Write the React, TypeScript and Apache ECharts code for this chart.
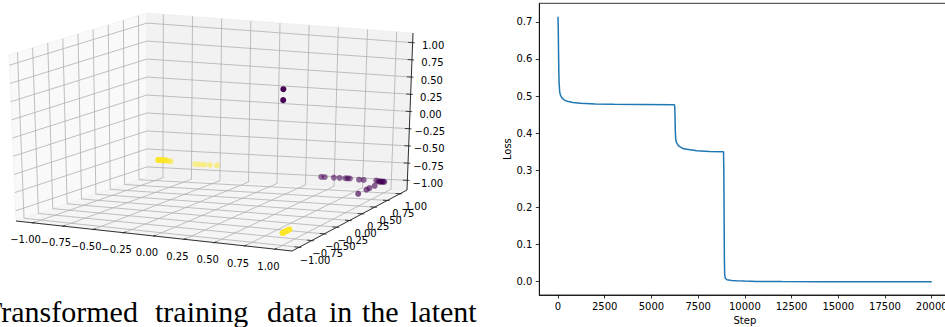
import React, { useEffect, useRef } from 'react';
import * as echarts from 'echarts';

// ---------------- Data ----------------
// 3D latent space tick values (same on all three axes)
const tickValues3d = [-1, -0.75, -0.5, -0.25, 0, 0.25, 0.5, 0.75, 1];

// class A (yellow) latent points [x, y, z]
const latentYellow: number[][] = [
  [-0.976, 1, -0.85], [-0.972, 1, -0.85], [-0.968, 1, -0.85], [-0.964, 1, -0.85], [-0.96, 1, -0.85],
  [-0.955, 1, -0.85], [-0.95, 1, -0.85], [-0.945, 1, -0.85], [-0.94, 1, -0.85], [-0.935, 1, -0.85],
  [-0.93, 1, -0.85], [-0.925, 1, -0.85], [-0.92, 1, -0.85], [-0.913, 1, -0.85], [-0.905, 1, -0.85],
  [-0.895, 1, -0.85], [-0.878, 1, -0.86], [-0.861, 1, -0.86],
  [-0.65, 1, -0.88], [-0.61, 1, -0.88], [-0.57, 1, -0.88], [-0.52, 1, -0.88], [-0.46, 1, -0.88],
  [1, -1, -0.97], [1, -0.98, -0.97], [1, -0.96, -0.97], [1, -0.94, -0.97], [1, -0.92, -0.97],
  [1, -0.9, -0.97], [1, -0.88, -0.97], [1, -0.86, -0.97],
];

// class B (purple) latent points [x, y, z]
const latentPurple: number[][] = [
  [0.99, -1, 1], [0.99, -1, 0.85],
  [0.45, 1, -0.96], [0.48, 1, -0.96], [0.56, 1, -0.96], [0.61, 1, -0.96], [0.66, 1, -0.96],
  [0.68, 1, -0.96], [0.7, 1, -0.96], [0.78, 1, -0.97], [0.82, 1, -0.97], [0.93, 1, -0.97],
  [0.95, 1, -0.98], [0.96, 1, -0.98], [0.97, 1, -0.98], [0.98, 1, -0.98], [0.99, 1, -0.98],
  [1, 1, -0.98],
  [0.965, 0.89, -1], [0.96, 0.8, -1], [0.96, 0.74, -1], [0.96, 0.58, -1],
];

// Loss curve
const lossSteps = [
  0, 15, 30, 45, 60, 90, 130, 200, 320, 500, 800, 1200, 2000, 3000, 4500, 6230, 6250, 6265,
  6280, 6300, 6340, 6450, 6720, 7430, 8100, 8860, 8875, 8890, 8905, 8920, 8950, 9040, 9300,
  9570, 10000, 10640, 12000, 14000, 20000,
];
const lossValues = [
  0.714, 0.68, 0.62, 0.565, 0.535, 0.512, 0.503, 0.496, 0.49, 0.486, 0.483, 0.481, 0.479,
  0.478, 0.4775, 0.477, 0.47, 0.44, 0.405, 0.385, 0.375, 0.366, 0.358, 0.353, 0.351, 0.35,
  0.3, 0.18, 0.06, 0.02, 0.01, 0.0054, 0.0035, 0.0027, 0.0018, 0.0009, 0.0004, 0.0002, 0.0001,
];
const stepTicks = [0, 2500, 5000, 7500, 10000, 12500, 15000, 17500, 20000];
const lossTicks = [0, 0.1, 0.2, 0.3, 0.4, 0.5, 0.6, 0.7];

const captionWords = ['Transformed', 'training', 'data', 'in', 'the', 'latent'];

// ---------------- Layout ----------------
const W = 945;
const H = 327;
const LIM = 1.14; // 3D axis limits (+/-)
// screen positions of the 3D box corners (u: x, v: y, w: z; 0 = min, 1 = max)
const BOX: Record<string, number[]> = {
  c000: [16, 221], c100: [292, 251], c010: [147, 177], c110: [407, 190],
  c001: [9, 55], c101: [295, 84], c011: [147, 13], c111: [413, 33],
};
const captionX = [-16, 155, 267, 329, 362, 410];
const FONT = '"DejaVu Sans", sans-serif';

function lerp(a: number[], b: number[], t: number) {
  return [a[0] + (b[0] - a[0]) * t, a[1] + (b[1] - a[1]) * t];
}
function proj(x: number, y: number, z: number) {
  const u = (x + LIM) / (2 * LIM);
  const v = (y + LIM) / (2 * LIM);
  const w = (z + LIM) / (2 * LIM);
  const a = lerp(BOX.c000, BOX.c100, u);
  const b = lerp(BOX.c010, BOX.c110, u);
  const c = lerp(BOX.c001, BOX.c101, u);
  const d = lerp(BOX.c011, BOX.c111, u);
  return lerp(lerp(a, b, v), lerp(c, d, v), w);
}
// closeness to the camera (bigger = nearer)
function closeness(p: number[]) {
  return 0.38 * p[0] * 4 - 0.9 * p[1] * 4 + 0.225 * p[2] * 2.3;
}
const fmt3d = (t: number) => (t < 0 ? '\u2212' : '') + Math.abs(t).toFixed(2);

function buildOption() {
  const L = LIM;
  const d = (2 * L) / 12;

  const staticSeries = (z: number, build: (api: any) => any[]) => ({
    type: 'custom',
    coordinateSystem: 'cartesian2d',
    xAxisIndex: 0,
    yAxisIndex: 0,
    z,
    silent: true,
    data: [[0, 0]],
    renderItem: (_p: any, api: any) => ({ type: 'group', children: build(api) }),
  });
  const C = (api: any, p: number[]) => api.coord(proj(p[0], p[1], p[2]));

  const panes = [
    { pts: [[-L, -L, -L], [-L, L, -L], [-L, L, L], [-L, -L, L]], fill: '#f9f9f9' },
    { pts: [[-L, L, -L], [L, L, -L], [L, L, L], [-L, L, L]], fill: '#f2f2f2' },
    { pts: [[-L, -L, -L], [L, -L, -L], [L, L, -L], [-L, L, -L]], fill: '#f5f5f5' },
  ];

  const gridLines: number[][][] = [];
  tickValues3d.forEach((t) => {
    gridLines.push([[t, -L, -L], [t, L, -L], [t, L, L]]);
    gridLines.push([[L, t, -L], [-L, t, -L], [-L, t, L]]);
    gridLines.push([[-L, -L, t], [-L, L, t], [L, L, t]]);
  });

  const axisLines: number[][][] = [
    [[-L, -L, -L], [L, -L, -L]],
    [[L, -L, -L], [L, L, -L]],
    [[L, L, -L], [L, L, L]],
  ];
  const tickSegs: number[][][] = [];
  tickValues3d.forEach((t) => {
    tickSegs.push([[t, -L + 0.2 * d, -L], [t, -L - 0.1 * d, -L]]);
    tickSegs.push([[L - 0.2 * d, t, -L], [L + 0.1 * d, t, -L]]);
    tickSegs.push([[L - 0.2 * d, L, t], [L + 0.1 * d, L, t]]);
  });

  const all = [...latentYellow, ...latentPurple];
  const cs = all.map((p) => closeness(p));
  const cmin = Math.min(...cs);
  const cmax = Math.max(...cs);
  const alphaOf = (p: number[]) => 1 - 0.55 * (cmax - closeness(p)) / (cmax - cmin);
  const scatterData = (pts: number[][]) =>
    pts
      .slice()
      .sort((a, b) => closeness(a) - closeness(b))
      .map((p) => ({ value: proj(p[0], p[1], p[2]), itemStyle: { opacity: alphaOf(p) } }));

  const text = (x: number, y: number, s: string) => ({
    type: 'text',
    x,
    y,
    style: { text: s, fill: '#000', font: `10px ${FONT}`, align: 'center', verticalAlign: 'middle' },
  });

  return {
    animation: false,
    backgroundColor: '#fff',
    grid: [
      { left: 0, top: 0, width: W, height: H, outerBoundsMode: 'none', containLabel: false },
      {
        left: 539.3, top: 3.3, width: 411.1, height: 291.7, show: true, borderColor: '#000',
        borderWidth: 0.8, outerBoundsMode: 'none', containLabel: false,
      },
    ],
    xAxis: [
      { gridIndex: 0, type: 'value', min: 0, max: W, show: false },
      {
        gridIndex: 1, type: 'value', min: -1000, max: 21000,
        name: 'Step', nameLocation: 'middle', nameGap: 20,
        nameTextStyle: { color: '#000', fontSize: 10, fontFamily: FONT },
        axisLine: { show: true, onZero: false, lineStyle: { color: '#000', width: 0.8 } },
        axisTick: { show: true, length: 3.5, customValues: stepTicks, lineStyle: { color: '#000', width: 0.8 } },
        axisLabel: {
          customValues: stepTicks, margin: 6, color: '#000', fontSize: 10, fontFamily: FONT,
          formatter: (v: number) => String(v),
        },
        splitLine: { show: false },
      },
    ],
    yAxis: [
      { gridIndex: 0, type: 'value', min: 0, max: H, inverse: true, show: false },
      {
        gridIndex: 1, type: 'value', min: -0.0357, max: 0.75,
        name: 'Loss', nameLocation: 'middle', nameGap: 27, nameRotate: 90,
        nameTextStyle: { color: '#000', fontSize: 10, fontFamily: FONT },
        axisLine: { show: true, onZero: false, lineStyle: { color: '#000', width: 0.8 } },
        axisTick: { show: true, length: 3.5, customValues: lossTicks, lineStyle: { color: '#000', width: 0.8 } },
        axisLabel: {
          customValues: lossTicks, margin: 7, color: '#000', fontSize: 10, fontFamily: FONT,
          formatter: (v: number) => v.toFixed(1),
        },
        splitLine: { show: false },
      },
    ],
    series: [
      staticSeries(1, (api) =>
        panes.map((pn) => ({
          type: 'polygon',
          shape: { points: pn.pts.map((p) => C(api, p)) },
          style: { fill: pn.fill, stroke: '#ececec', lineWidth: 0.6 },
        })),
      ),
      staticSeries(2, (api) =>
        gridLines.map((gl) => ({
          type: 'polyline',
          shape: { points: gl.map((p) => C(api, p)) },
          style: { stroke: '#b0b0b0', lineWidth: 0.8, fill: null },
        })),
      ),
      staticSeries(3, (api) => [
        ...axisLines.map((al) => ({
          type: 'polyline',
          shape: { points: al.map((p) => C(api, p)) },
          style: { stroke: '#1a1a1a', lineWidth: 0.9, fill: null },
        })),
        ...tickSegs.map((ts) => ({
          type: 'polyline',
          shape: { points: ts.map((p) => C(api, p)) },
          style: { stroke: '#1a1a1a', lineWidth: 0.8, fill: null },
        })),
      ]),
      staticSeries(4, (api) => [
        ...tickValues3d.map((t) => {
          const q = C(api, [t, -L - 0.13, -L]);
          return text(q[0], q[1] + 14, fmt3d(t));
        }),
        ...tickValues3d.map((t) => {
          const q = C(api, [L, t, -L]);
          return text(q[0] + 16, q[1] + 13, fmt3d(t));
        }),
        ...tickValues3d.map((t) => {
          const q = C(api, [L, L, t]);
          return text(q[0] + 20.5, q[1] + 3, fmt3d(t));
        }),
      ]),
      {
        type: 'scatter', xAxisIndex: 0, yAxisIndex: 0, z: 5, silent: true,
        symbol: 'circle', symbolSize: 6, itemStyle: { color: '#fde725' },
        data: scatterData(latentYellow),
      },
      {
        type: 'scatter', xAxisIndex: 0, yAxisIndex: 0, z: 5, silent: true,
        symbol: 'circle', symbolSize: 6, itemStyle: { color: '#440154' },
        data: scatterData(latentPurple),
      },
      {
        type: 'line', xAxisIndex: 1, yAxisIndex: 1, z: 3, silent: true,
        showSymbol: false, symbol: 'none',
        lineStyle: { color: '#1f77b4', width: 1.5 },
        data: lossSteps.map((s, i) => [s, lossValues[i]]),
      },
    ],
    graphic: captionWords.map((wd, i) => ({
      type: 'text',
      x: captionX[i],
      y: 311,
      silent: true,
      style: {
        text: wd, fill: '#000', font: '30px "Liberation Serif", serif',
        align: 'left', verticalAlign: 'middle',
      },
    })),
  };
}

export default function App() {
  const ref = useRef<HTMLDivElement>(null);
  useEffect(() => {
    if (!ref.current) return;
    const chart = echarts.init(ref.current, undefined, { renderer: 'svg', width: W, height: H });
    chart.setOption(buildOption() as any);
    return () => chart.dispose();
  }, []);
  return (
    <div
      ref={ref}
      style={{ position: 'fixed', left: 0, top: 0, width: W, height: H, background: '#fff' }}
    />
  );
}
